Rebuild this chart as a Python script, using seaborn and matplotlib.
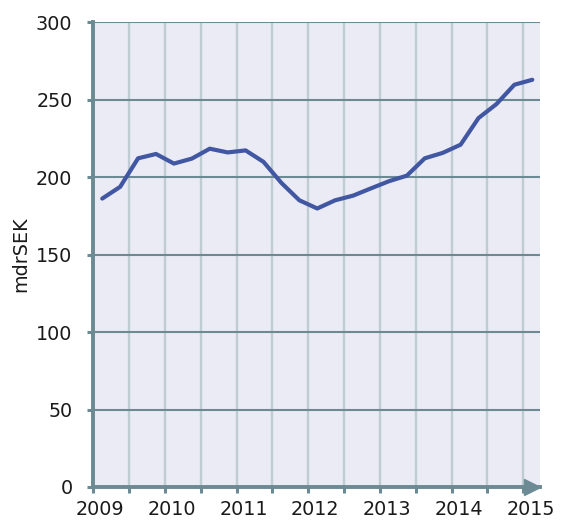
"""Quarterly series in mdrSEK, 2009-2015, darkgrid-style line chart."""

import matplotlib
matplotlib.use("Agg")
import matplotlib.pyplot as plt
import matplotlib.transforms as mtransforms
from matplotlib.ticker import MultipleLocator
import pandas as pd
import seaborn as sns

sns.set_theme(style="darkgrid")
plt.rcParams["font.family"] = ["DejaVu Sans"]

# ---------------------------------------------------------------------------
# Data (quarterly, 2009 Q1 - 2015 Q1)
# ---------------------------------------------------------------------------
years = [2009] * 4 + [2010] * 4 + [2011] * 4 + [2012] * 4 + [2013] * 4 + [2014] * 4 + [2015]
quarters = [1, 2, 3, 4] * 6 + [1]
values = [
    186.2, 193.8, 212.2, 215.0,
    208.8, 212.0, 218.4, 216.0,
    217.3, 209.9, 196.3, 185.1,
    179.8, 185.1, 188.1, 192.8,
    197.4, 201.0, 212.2, 215.7,
    221.0, 238.2, 247.2, 259.7,
    262.9,
]
year_labels = ["2009", "2010", "2011", "2012", "2013", "2014", "2015"]
y_ticks = [0, 50, 100, 150, 200, 250, 300]

df = pd.DataFrame({"year": years, "quarter": quarters, "value": values})
# place each quarter at its midpoint
df["t"] = df["year"] + (df["quarter"] - 0.5) / 4

# ---------------------------------------------------------------------------
# Style
# ---------------------------------------------------------------------------
_BG = "#EBEBF5"
_AXIS = "#6B8A93"
_VGRID = "#BFCCD1"
_LINE = "#4157A2"
_FS = 13.8

fig = plt.figure(figsize=(5.61, 5.20), dpi=100)
ax = fig.add_axes([0.1663, 0.0635, 0.7963, 0.8936])
ax.set_facecolor(_BG)

sns.lineplot(data=df, x="t", y="value", color=_LINE, linewidth=3, ax=ax, zorder=5)

ax.set_xlim(2009, 2015.233)
ax.set_ylim(0, 300)
ax.xaxis.set_major_locator(MultipleLocator(1))
ax.xaxis.set_minor_locator(MultipleLocator(0.5))
ax.set_xticks([int(y) for y in year_labels])
ax.set_xticklabels(year_labels)
ax.set_yticks(y_ticks)
ax.set_yticklabels([str(v) for v in y_ticks])

ax.grid(False)
ax.grid(axis="x", which="both", color=_VGRID, linewidth=1.7)
ax.grid(axis="y", which="major", color=_AXIS, linewidth=1.5)

for side in ("top", "right"):
    ax.spines[side].set_visible(False)
for side in ("left", "bottom"):
    ax.spines[side].set_visible(True)
    ax.spines[side].set_color(_AXIS)
    ax.spines[side].set_linewidth(2.8)
    ax.spines[side].set_zorder(6)

ax.tick_params(axis="both", which="both", direction="out", color=_AXIS,
               width=2.2, length=4.5, labelsize=_FS, labelcolor="#1a1a1a")
ax.tick_params(axis="y", pad=10.5, left=True)
ax.tick_params(axis="x", which="both", bottom=True, pad=5)

# arrow head on the x-axis
ax.plot([0.981], [0], marker=">", markersize=11, color=_AXIS,
        transform=ax.transAxes, clip_on=False, zorder=7)

ax.set_xlabel("")
ax.set_ylabel("mdrSEK", fontsize=_FS, color="#1a1a1a", labelpad=4)

# year labels sit slightly right of their ticks in the reference
offset = mtransforms.ScaledTranslation(0.07, 0, fig.dpi_scale_trans)
for lbl in ax.get_xticklabels():
    lbl.set_transform(lbl.get_transform() + offset)

fig.savefig("out.png", dpi=100)
plt.close(fig)
